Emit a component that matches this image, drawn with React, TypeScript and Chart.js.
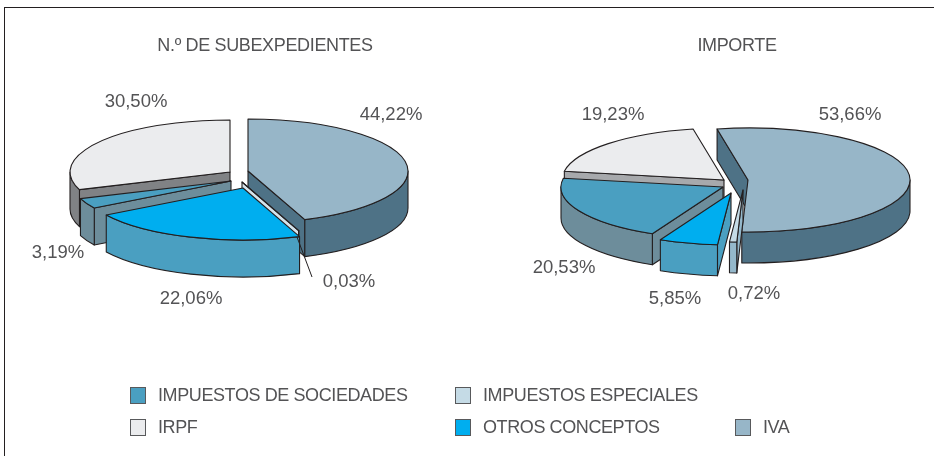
import React, { useEffect, useRef } from "react";
import { Chart, registerables } from "chart.js";

Chart.register(...registerables);

// Data
const categories = ["IVA", "IMPUESTOS ESPECIALES", "OTROS CONCEPTOS", "IMPUESTOS DE SOCIEDADES", "IRPF"];
const subexpedientes = [44.22, 0.03, 22.06, 3.19, 30.5];
const importe = [53.66, 0.72, 5.85, 20.53, 19.23];
const titles = ["N.º DE SUBEXPEDIENTES", "IMPORTE"];

// Styles
const topColors = ["#97b6c8", "#c5dbe6", "#00aeef", "#4a9fc1", "#ebecee"];
const wallColorsA = ["#4e7286", "#d5e4ec", "#4a9fc1", "#6d8d9b", "#808285"];
const wallColorsB = ["#4e7286", "#94b8cb", "#4a9fc1", "#6d8d9b", "#a7a9ac"];
const INK = "#231f20";
const TEXT = "#535355";
const FONT = '"Liberation Sans", Arial, sans-serif';

// Layout: where each exploded slice's hub sits on the page, and its label
const layoutA = {
  radius: 160, ry: 52, depth: 37, rotation: 0,
  hubX: [248, 242, 243, 231, 230], hubY: [171, 182, 188, 181, 172],
  order: [4, 3, 0, 1, 2], walls: wallColorsA,
  labelX: [391, 349, 191, 58, 136], labelY: [115, 282, 299, 253, 102],
  titleX: 265, leader: [297, 237, 312, 277],
};
const layoutB = {
  radius: 162, ry: 52, depth: 31, rotation: -11,
  hubX: [748, 743, 731, 723, 724], hubY: [180, 190, 193, 187, 180],
  order: [4, 3, 0, 1, 2], walls: wallColorsB,
  labelX: [850, 754, 675, 564, 613], labelY: [115, 294, 299, 268, 115],
  titleX: 737, leader: null as null | number[],
};

const legendRows = [
  { name: "IMPUESTOS DE SOCIEDADES", idx: 3, x: 130, y: 395 },
  { name: "IMPUESTOS ESPECIALES", idx: 1, x: 455, y: 395 },
  { name: "IRPF", idx: 4, x: 130, y: 427 },
  { name: "OTROS CONCEPTOS", idx: 2, x: 455, y: 427 },
  { name: "IVA", idx: 0, x: 735, y: 427 },
];

function pie3d(layout: any, title: string) {
  return {
    id: "pie3d",
    beforeDatasetsDraw(chart: any) {
      const ctx = chart.ctx as CanvasRenderingContext2D;
      const arcs = chart.getDatasetMeta(0).data;
      const { ry, depth, order, hubX, hubY, walls } = layout;
      const rx = arcs[0].outerRadius;
      ctx.save();
      ctx.lineWidth = 1.1;
      ctx.strokeStyle = INK;
      ctx.lineJoin = "round";
      for (const i of order) {
        const arc = arcs[i];
        const a = arc.startAngle, b = arc.endAngle;
        const cx = hubX[i], cy = hubY[i];
        const rim = (t: number): [number, number] => [cx + rx * Math.cos(t), cy + ry * Math.sin(t)];
        ctx.fillStyle = walls[i];
        // cut faces, only those turned toward the viewer
        const faces: number[] = [];
        if (Math.cos(a) < 0) faces.push(a);
        if (Math.cos(b) > 0) faces.push(b);
        for (const t of faces) {
          const [px, py] = rim(t);
          ctx.beginPath();
          ctx.moveTo(cx, cy);
          ctx.lineTo(px, py);
          ctx.lineTo(px, py + depth);
          ctx.lineTo(cx, cy + depth);
          ctx.closePath();
          ctx.fill();
          ctx.stroke();
        }
        // outer wall: only the part of the rim that faces the viewer
        for (const shift of [-2, 0, 2]) {
          const lo = Math.max(a, shift * Math.PI);
          const hi = Math.min(b, (shift + 1) * Math.PI);
          if (hi <= lo) continue;
          ctx.beginPath();
          ctx.ellipse(cx, cy, rx, ry, 0, lo, hi);
          ctx.ellipse(cx, cy + depth, rx, ry, 0, hi, lo, true);
          ctx.closePath();
          ctx.fill();
          ctx.stroke();
        }
        // top face: the library's own arc, flattened
        ctx.save();
        ctx.translate(cx, cy);
        ctx.scale(1, ry / rx);
        ctx.translate(-arc.x, -arc.y);
        arc.draw(ctx);
        ctx.restore();
        ctx.beginPath();
        ctx.moveTo(cx, cy);
        ctx.ellipse(cx, cy, rx, ry, 0, a, b);
        ctx.closePath();
        ctx.stroke();
      }
      ctx.restore();
      return false;
    },
    afterDraw(chart: any) {
      const ctx = chart.ctx as CanvasRenderingContext2D;
      const values = chart.data.datasets[0].data as number[];
      ctx.save();
      ctx.fillStyle = TEXT;
      ctx.textAlign = "center";
      ctx.textBaseline = "middle";
      ctx.font = `18px ${FONT}`;
      (ctx as any).letterSpacing = "-0.35px";
      ctx.fillText(title, layout.titleX, 46);
      ctx.font = `18.5px ${FONT}`;
      (ctx as any).letterSpacing = "0px";
      values.forEach((v, i) => {
        ctx.fillText(v.toFixed(2).replace(".", ",") + "%", layout.labelX[i], layout.labelY[i]);
      });
      if (layout.leader) {
        const [x0, y0, x1, y1] = layout.leader;
        ctx.strokeStyle = INK;
        ctx.lineWidth = 1;
        ctx.beginPath();
        ctx.moveTo(x0, y0);
        ctx.lineTo(x1, y1);
        ctx.stroke();
      }
      ctx.restore();
    },
  };
}

function Pie({ values, layout, title }: { values: number[]; layout: any; title: string }) {
  const ref = useRef<HTMLCanvasElement>(null);
  useEffect(() => {
    const chart = new Chart(ref.current as HTMLCanvasElement, {
      type: "pie",
      data: {
        labels: categories,
        datasets: [{ data: values, backgroundColor: topColors, borderWidth: 0 }],
      },
      options: {
        animation: false,
        responsive: false,
        radius: layout.radius,
        rotation: layout.rotation,
        layout: { padding: 0 },
        plugins: { legend: { display: false }, tooltip: { enabled: false }, title: { display: false } },
      } as any,
      plugins: [pie3d(layout, title) as any],
    });
    return () => chart.destroy();
  }, []);
  return <canvas ref={ref} width={934} height={456} style={{ position: "absolute", left: 0, top: 0, width: 934, height: 456 }} />;
}

export default function App() {
  useEffect(() => {
    document.body.style.margin = "0";
    document.body.style.background = "#fff";
  }, []);
  return (
    <div style={{ position: "relative", width: 934, height: 456, overflow: "hidden", background: "#fff" }}>
      <div style={{ position: "absolute", left: 4, top: 7, width: 930, height: 1, background: "#231f20" }} />
      <div style={{ position: "absolute", left: 4, top: 7, width: 1, height: 449, background: "#231f20" }} />
      <Pie values={subexpedientes} layout={layoutA} title={titles[0]} />
      <Pie values={importe} layout={layoutB} title={titles[1]} />
      {legendRows.map((r) => (
        <React.Fragment key={r.name}>
          <div style={{ position: "absolute", left: r.x, top: r.y - 8, width: 16, height: 17, boxSizing: "border-box", background: topColors[r.idx], border: "1.5px solid #58595b" }} />
          <div style={{ position: "absolute", left: r.x + 28, top: r.y - 11, lineHeight: "22px", fontFamily: FONT, fontSize: 18, letterSpacing: "-0.4px", color: TEXT, whiteSpace: "nowrap" }}>{r.name}</div>
        </React.Fragment>
      ))}
    </div>
  );
}
